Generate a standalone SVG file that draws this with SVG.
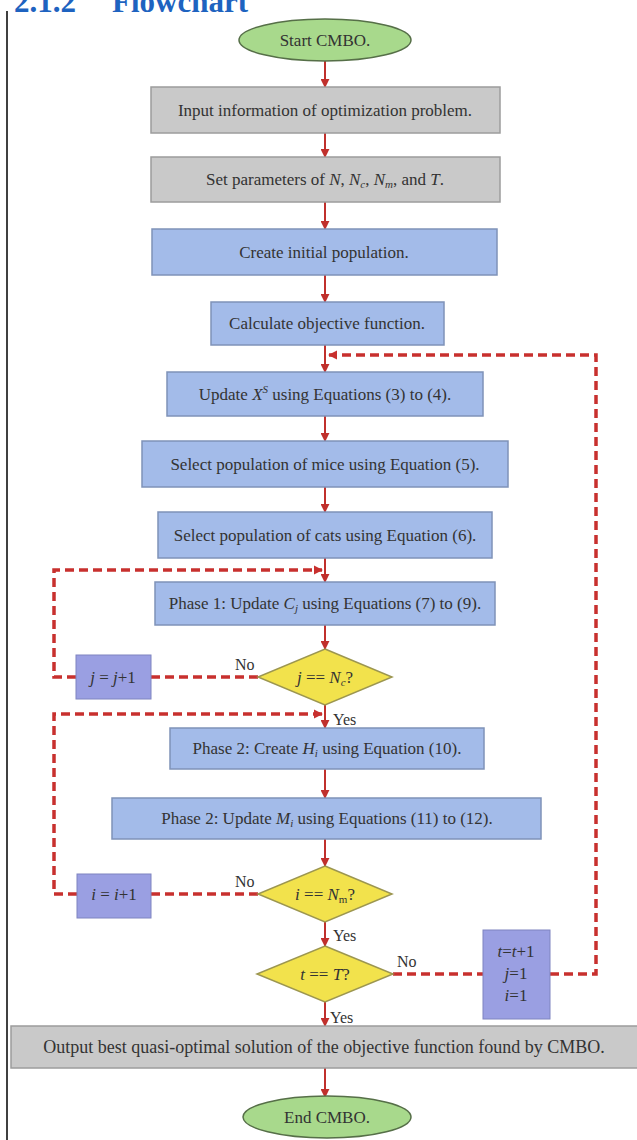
<svg xmlns="http://www.w3.org/2000/svg" width="637" height="1140" viewBox="0 0 637 1140">
<defs>
<style>
.t{font-family:"Liberation Serif","Times New Roman",serif;font-size:17px;fill:#333;text-anchor:middle}
.i{font-style:italic}
.s{font-size:11px}
.gray{fill:#c9c9c9;stroke:#9c9c9c;stroke-width:1.5}
.blue{fill:#a3bbe9;stroke:#7f92b8;stroke-width:1.5}
.pur{fill:#9a9fe2;stroke:#7f84c0;stroke-width:1}
.dia{fill:#f2e24c;stroke:#9c9650;stroke-width:1.5}
.ell{fill:#a8d98c;stroke:#566f48;stroke-width:1.5}
.ar{fill:none;stroke:#c0302c;stroke-width:2}
.da{fill:none;stroke:#c8302e;stroke-width:3.5;stroke-dasharray:9 5}
.lb{font-family:"Liberation Serif","Times New Roman",serif;font-size:16px;fill:#333}
</style>
<marker id="ah" viewBox="0 0 10 10" refX="9" refY="5" markerWidth="4.5" markerHeight="4.5" orient="auto" markerUnits="strokeWidth">
<path d="M0,0 L10,5 L0,10 z" fill="#c0302c"/>
</marker>
<marker id="ahd" viewBox="0 0 10 10" refX="9" refY="5" markerWidth="2.6" markerHeight="2.6" orient="auto" markerUnits="strokeWidth">
<path d="M0,0 L10,5 L0,10 z" fill="#c8302e"/>
</marker>
</defs>
<rect width="637" height="1140" fill="#fff"/>
<text x="14" y="12" font-family="Liberation Serif,serif" font-weight="bold" font-size="31" fill="#1e63c0">2.1.2<tspan x="112">Flowchart</tspan></text>
<line x1="7" y1="11" x2="7" y2="1140" stroke="#000" stroke-width="1.5"/>

<g id="connectors">
<line class="ar" x1="325" y1="61" x2="325" y2="87" marker-end="url(#ah)"/>
<line class="ar" x1="325" y1="133" x2="325" y2="157" marker-end="url(#ah)"/>
<line class="ar" x1="325" y1="202" x2="325" y2="229" marker-end="url(#ah)"/>
<line class="ar" x1="325" y1="275" x2="325" y2="302" marker-end="url(#ah)"/>
<line class="ar" x1="325" y1="345" x2="325" y2="372" marker-end="url(#ah)"/>
<line class="ar" x1="325" y1="416" x2="325" y2="441" marker-end="url(#ah)"/>
<line class="ar" x1="325" y1="487" x2="325" y2="512" marker-end="url(#ah)"/>
<line class="ar" x1="325" y1="558" x2="325" y2="582" marker-end="url(#ah)"/>
<line class="ar" x1="325" y1="625" x2="325" y2="649" marker-end="url(#ah)"/>
<line class="ar" x1="325" y1="705" x2="325" y2="728" marker-end="url(#ah)"/>
<line class="ar" x1="325" y1="769" x2="325" y2="798" marker-end="url(#ah)"/>
<line class="ar" x1="325" y1="839" x2="325" y2="866" marker-end="url(#ah)"/>
<line class="ar" x1="325" y1="922" x2="325" y2="946" marker-end="url(#ah)"/>
<line class="ar" x1="325" y1="1002" x2="325" y2="1026" marker-end="url(#ah)"/>
<line class="ar" x1="325" y1="1068" x2="325" y2="1097" marker-end="url(#ah)"/>
<path class="da" d="M258,677 H151"/>
<path class="da" d="M76,677 H54 V570 H322" marker-end="url(#ahd)"/>
<path class="da" d="M258,894 H151"/>
<path class="da" d="M77,894 H54 V714 H322" marker-end="url(#ahd)"/>
<path class="da" d="M393,974 H483"/>
<path class="da" d="M550,974 H596 V355 H329" marker-end="url(#ahd)"/>
<text class="lb" x="235" y="670">No</text>
<text class="lb" x="333" y="725">Yes</text>
<text class="lb" x="235" y="887">No</text>
<text class="lb" x="333" y="941">Yes</text>
<text class="lb" x="397" y="967">No</text>
<text class="lb" x="330" y="1023">Yes</text>
</g>

<g id="start"><ellipse class="ell" cx="325" cy="40" rx="86" ry="21"/><text class="t" x="325" y="46">Start CMBO.</text></g>
<g id="input"><rect class="gray" x="151" y="87" width="349" height="46"/><text class="t" x="325" y="116">Input information of optimization problem.</text></g>
<g id="params"><rect class="gray" x="151" y="157" width="349" height="45"/><text class="t" x="325" y="185">Set parameters of <tspan class="i">N</tspan>, <tspan class="i">N</tspan><tspan class="i s" dy="3">c</tspan><tspan dy="-3">, </tspan><tspan class="i">N</tspan><tspan class="i s" dy="3">m</tspan><tspan dy="-3">, and </tspan><tspan class="i">T</tspan>.</text></g>
<g id="init"><rect class="blue" x="152" y="229" width="345" height="46"/><text class="t" x="324" y="258">Create initial population.</text></g>
<g id="calc"><rect class="blue" x="211" y="302" width="233" height="43"/><text class="t" x="327" y="329">Calculate objective function.</text></g>
<g id="updxs"><rect class="blue" x="167" y="372" width="316" height="44"/><text class="t" x="325" y="400">Update <tspan class="i">X</tspan><tspan class="i s" dy="-7">S</tspan><tspan dy="7"> using Equations (3) to (4).</tspan></text></g>
<g id="mice"><rect class="blue" x="142" y="441" width="366" height="46"/><text class="t" x="325" y="470">Select population of mice using Equation (5).</text></g>
<g id="cats"><rect class="blue" x="158" y="512" width="334" height="46"/><text class="t" x="325" y="541">Select population of cats using Equation (6).</text></g>
<g id="phase1"><rect class="blue" x="155" y="582" width="340" height="43"/><text class="t" x="325" y="609">Phase 1: Update <tspan class="i">C</tspan><tspan class="i s" dy="3">j</tspan><tspan dy="-3"> using Equations (7) to (9).</tspan></text></g>
<g id="dec1"><polygon class="dia" points="325,649 392,677 325,705 258,677"/><text class="t" x="325" y="683"><tspan class="i">j</tspan> == <tspan class="i">N</tspan><tspan class="i s" dy="3">c</tspan><tspan dy="-3">?</tspan></text></g>
<g id="jinc"><rect class="pur" x="76" y="655" width="75" height="44"/><text class="t" x="113" y="683"><tspan class="i">j</tspan> = <tspan class="i">j</tspan>+1</text></g>
<g id="create"><rect class="blue" x="170" y="728" width="314" height="41"/><text class="t" x="327" y="754">Phase 2: Create <tspan class="i">H</tspan><tspan class="i s" dy="3">i</tspan><tspan dy="-3"> using Equation (10).</tspan></text></g>
<g id="phase2"><rect class="blue" x="112" y="798" width="429" height="41"/><text class="t" x="327" y="824">Phase 2: Update <tspan class="i">M</tspan><tspan class="i s" dy="3">i</tspan><tspan dy="-3"> using Equations (11) to (12).</tspan></text></g>
<g id="dec2"><polygon class="dia" points="325,866 392,894 325,922 258,894"/><text class="t" x="325" y="900"><tspan class="i">i</tspan> == <tspan class="i">N</tspan><tspan class="s" dy="3">m</tspan><tspan dy="-3">?</tspan></text></g>
<g id="iinc"><rect class="pur" x="77" y="874" width="74" height="44"/><text class="t" x="114" y="900"><tspan class="i">i</tspan> = <tspan class="i">i</tspan>+1</text></g>
<g id="dec3"><polygon class="dia" points="325,946 393,974 325,1002 257,974"/><text class="t" x="325" y="980"><tspan class="i">t</tspan> == <tspan class="i">T</tspan>?</text></g>
<g id="tinc"><rect class="pur" x="483" y="930" width="67" height="89"/><text class="t" x="516" y="957"><tspan class="i">t</tspan>=<tspan class="i">t</tspan>+1</text><text class="t" x="516" y="979"><tspan class="i">j</tspan>=1</text><text class="t" x="516" y="1001"><tspan class="i">i</tspan>=1</text></g>
<g id="output"><rect class="gray" x="11" y="1026" width="630" height="42"/><text class="t" x="324" y="1053" style="font-size:18px">Output best quasi-optimal solution of the objective function found by CMBO.</text></g>
<g id="end"><ellipse class="ell" cx="327" cy="1117" rx="84" ry="21"/><text class="t" x="327" y="1123">End CMBO.</text></g>
</svg>
